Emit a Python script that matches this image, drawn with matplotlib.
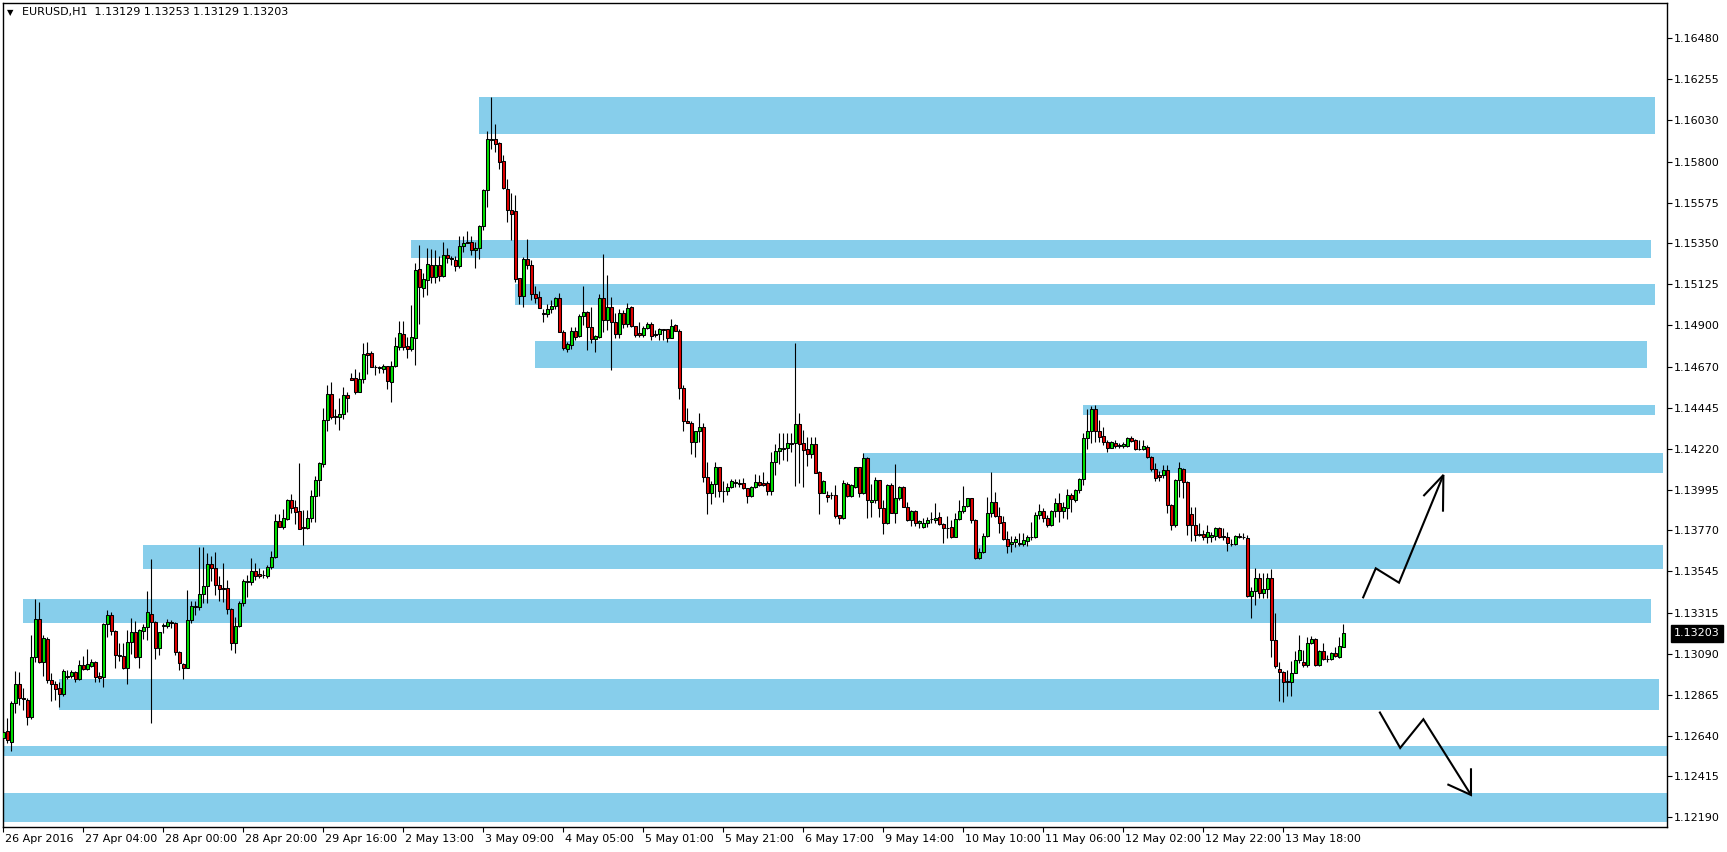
import matplotlib
matplotlib.use("Agg")
import matplotlib.pyplot as plt
from matplotlib.transforms import blended_transform_factory, ScaledTranslation

# ---------------- data ----------------
symbol_text = "EURUSD,H1  1.13129 1.13253 1.13129 1.13203"
last_price_label = "1.13203"

opens = [1.12625,1.12664,1.12607,1.12818,1.12923,1.12849,1.12836,1.12741,1.13071,1.13281,
1.13046,1.13172,1.12945,1.12923,1.12901,1.12871,1.12966,1.12970,1.12989,1.12953,
1.13027,1.13009,1.13025,1.13043,1.12967,1.12964,1.13253,1.13303,1.13214,1.13082,
1.13077,1.13014,1.13154,1.13211,1.13071,1.13214,1.13237,1.13310,1.13264,1.13120,
1.13242,1.13242,1.13266,1.13258,1.13099,1.13033,1.13014,1.13275,1.13347,1.13346,
1.13418,1.13462,1.13583,1.13561,1.13469,1.13451,1.13451,1.13336,1.13148,1.13242,
1.13369,1.13484,1.13486,1.13547,1.13530,1.13522,1.13521,1.13569,1.13625,1.13820,
1.13791,1.13831,1.13938,1.13897,1.13877,1.13791,1.13785,1.13837,1.13958,1.14046,
1.14137,1.14376,1.14521,1.14400,1.14396,1.14411,1.14514,1.14608,1.14608,1.14534,
1.14602,1.14745,1.14745,1.14672,1.14667,1.14661,1.14675,1.14589,1.14675,1.14782,
1.14852,1.14786,1.14771,1.14828,1.15208,1.15107,1.15147,1.15232,1.15167,1.15232,
1.15173,1.15285,1.15270,1.15258,1.15228,1.15334,1.15351,1.15357,1.15313,1.15324,
1.15446,1.15643,1.15922,1.15924,1.15904,1.15805,1.15650,1.15535,1.15527,1.15158,
1.15063,1.15263,1.15232,1.15071,1.15053,1.14967,1.14960,1.14988,1.15004,1.15048,
1.14864,1.14771,1.14789,1.14870,1.14842,1.14951,1.14971,1.14889,1.14823,1.14837,
1.15048,1.14929,1.15002,1.14916,1.14850,1.14966,1.14905,1.15002,1.14897,1.14856,
1.14845,1.14884,1.14907,1.14845,1.14850,1.14878,1.14878,1.14831,1.14900,1.14870,
1.14554,1.14374,1.14363,1.14259,1.14318,1.14338,1.14066,1.13977,1.14024,1.14118,
1.13987,1.13987,1.14011,1.14035,1.14023,1.14032,1.14002,1.13961,1.14007,1.14036,
1.14032,1.14032,1.13989,1.14145,1.14206,1.14226,1.14223,1.14250,1.14250,1.14354,
1.14250,1.14218,1.14192,1.14244,1.14090,1.13977,1.13965,1.13965,1.13965,1.13855,
1.13837,1.14028,1.13961,1.14011,1.14118,1.13974,1.14167,1.13928,1.13938,1.14046,
1.13892,1.13813,1.14019,1.13868,1.13947,1.14011,1.13901,1.13827,1.13877,1.13809,
1.13791,1.13809,1.13831,1.13827,1.13844,1.13804,1.13785,1.13787,1.13736,1.13831,
1.13877,1.13904,1.13947,1.13827,1.13620,1.13653,1.13738,1.13868,1.13925,1.13849,
1.13818,1.13723,1.13694,1.13705,1.13702,1.13697,1.13712,1.13736,1.13732,1.13853,
1.13875,1.13840,1.13800,1.13877,1.13921,1.13879,1.13892,1.13963,1.13938,1.13991,
1.14055,1.14277,1.14318,1.14437,1.14319,1.14288,1.14255,1.14226,1.14250,1.14239,
1.14235,1.14235,1.14277,1.14266,1.14220,1.14220,1.14231,1.14172,1.14107,1.14074,
1.14074,1.14103,1.13908,1.13802,1.14048,1.14108,1.14036,1.13859,1.13797,1.13749,
1.13750,1.13732,1.13732,1.13741,1.13782,1.13739,1.13732,1.13697,1.13694,1.13738,
1.13736,1.13727,1.13409,1.13438,1.13506,1.13424,1.13446,1.13506,1.13167,1.13005,
1.12989,1.12941,1.12937,1.12986,1.13054,1.13045,1.13029,1.13148,1.13170,1.13029,
1.13106,1.13060,1.13060,1.13093,1.13074,1.13129]

highs = [1.12676,1.12737,1.12831,1.12994,1.12989,1.12902,1.12847,1.13194,1.13392,1.13374,
1.13194,1.13183,1.12983,1.12942,1.12934,1.13007,1.13001,1.13001,1.12996,1.13056,
1.13078,1.13115,1.13061,1.13049,1.12990,1.13260,1.13332,1.13321,1.13222,1.13148,
1.13150,1.13222,1.13286,1.13270,1.13226,1.13253,1.13436,1.13613,1.13271,1.13211,
1.13258,1.13281,1.13275,1.13264,1.13106,1.13040,1.13442,1.13381,1.13383,1.13679,
1.13679,1.13646,1.13629,1.13651,1.13519,1.13591,1.13495,1.13343,1.13295,1.13381,
1.13503,1.13525,1.13618,1.13591,1.13561,1.13552,1.13578,1.13657,1.13860,1.13860,
1.13888,1.13945,1.13968,1.13938,1.14141,1.13882,1.13882,1.13993,1.14068,1.14145,
1.14443,1.14571,1.14586,1.14439,1.14498,1.14560,1.14530,1.14635,1.14659,1.14641,
1.14802,1.14808,1.14758,1.14679,1.14677,1.14686,1.14677,1.14703,1.14835,1.14923,
1.14923,1.14835,1.15011,1.15241,1.15343,1.15189,1.15327,1.15320,1.15314,1.15283,
1.15357,1.15324,1.15280,1.15280,1.15391,1.15391,1.15419,1.15391,1.15357,1.15450,
1.15650,1.15968,1.16157,1.16008,1.15911,1.15837,1.15705,1.15628,1.15617,1.15160,
1.15276,1.15375,1.15258,1.15118,1.15088,1.14991,1.15015,1.15039,1.15057,1.15076,
1.14874,1.14808,1.14890,1.14890,1.14963,1.15116,1.14980,1.14999,1.14846,1.15072,
1.15292,1.15177,1.15057,1.14966,1.14988,1.14984,1.15021,1.15006,1.14897,1.14916,
1.14896,1.14919,1.14919,1.14872,1.14885,1.14880,1.14880,1.14933,1.14908,1.14880,
1.14571,1.14443,1.14374,1.14318,1.14415,1.14363,1.14145,1.14044,1.14145,1.14121,
1.14042,1.14033,1.14055,1.14052,1.14055,1.14057,1.14004,1.14015,1.14082,1.14075,
1.14090,1.14042,1.14200,1.14244,1.14305,1.14305,1.14308,1.14305,1.14800,1.14415,
1.14323,1.14286,1.14286,1.14286,1.14099,1.14048,1.13987,1.13983,1.14020,1.13857,
1.14048,1.14039,1.14028,1.14121,1.14121,1.14195,1.14172,1.14024,1.14066,1.14050,
1.13938,1.14024,1.14029,1.14134,1.14015,1.14015,1.13925,1.13882,1.13882,1.13827,
1.13837,1.13846,1.13871,1.13919,1.13871,1.13813,1.13849,1.13827,1.13864,1.13938,
1.14016,1.13949,1.13950,1.13830,1.13671,1.13754,1.13953,1.14090,1.13980,1.13901,
1.13849,1.13768,1.13739,1.13739,1.13754,1.13758,1.13747,1.13816,1.13873,1.13914,
1.13895,1.13855,1.13882,1.13947,1.13974,1.13928,1.13998,1.13977,1.13998,1.14061,
1.14306,1.14439,1.14457,1.14462,1.14378,1.14340,1.14268,1.14262,1.14268,1.14253,
1.14257,1.14286,1.14292,1.14271,1.14266,1.14266,1.14240,1.14177,1.14140,1.14097,
1.14132,1.14129,1.13913,1.14053,1.14147,1.14114,1.14041,1.13901,1.13901,1.13809,
1.13772,1.13798,1.13763,1.13791,1.13791,1.13782,1.13763,1.13721,1.13745,1.13754,
1.13758,1.13745,1.13460,1.13561,1.13537,1.13534,1.13534,1.13556,1.13314,1.13046,
1.12998,1.13001,1.13050,1.13106,1.13194,1.13111,1.13185,1.13189,1.13176,1.13111,
1.13152,1.13084,1.13102,1.13130,1.13185,1.13253]

lows = [1.12557,1.12601,1.12557,1.12763,1.12810,1.12781,1.12700,1.12730,1.13046,1.13040,
1.12969,1.12930,1.12831,1.12836,1.12799,1.12860,1.12952,1.12956,1.12937,1.12946,
1.13001,1.13001,1.13016,1.12935,1.12935,1.12909,1.13181,1.13192,1.13014,1.13052,
1.13009,1.12926,1.13088,1.13069,1.13014,1.13172,1.13167,1.12709,1.13064,1.13086,
1.13206,1.13231,1.13231,1.13084,1.12999,1.12953,1.13010,1.13258,1.13304,1.13332,
1.13370,1.13369,1.13493,1.13414,1.13383,1.13377,1.13310,1.13111,1.13097,1.13240,
1.13354,1.13405,1.13469,1.13497,1.13508,1.13508,1.13508,1.13558,1.13620,1.13786,
1.13779,1.13827,1.13868,1.13807,1.13775,1.13691,1.13779,1.13818,1.13818,1.13961,
1.14118,1.14319,1.14385,1.14354,1.14325,1.14384,1.14421,1.14598,1.14523,1.14530,
1.14583,1.14630,1.14668,1.14628,1.14638,1.14638,1.14549,1.14479,1.14672,1.14764,
1.14762,1.14721,1.14758,1.14683,1.14905,1.15057,1.15068,1.15134,1.15134,1.15144,
1.15168,1.15244,1.15232,1.15200,1.15217,1.15305,1.15350,1.15287,1.15217,1.15266,
1.15423,1.15553,1.15872,1.15856,1.15762,1.15650,1.15470,1.15369,1.15140,1.15017,
1.15002,1.15210,1.15039,1.15024,1.14992,1.14918,1.14944,1.14966,1.14991,1.14860,
1.14764,1.14753,1.14769,1.14819,1.14837,1.14901,1.14764,1.14800,1.14753,1.14832,
1.14864,1.14874,1.14653,1.14831,1.14831,1.14885,1.14892,1.14892,1.14837,1.14835,
1.14837,1.14878,1.14820,1.14837,1.14819,1.14819,1.14809,1.14828,1.14868,1.14494,
1.14319,1.14362,1.14191,1.14176,1.14259,1.14038,1.13859,1.13914,1.13955,1.13955,
1.13928,1.13965,1.14005,1.14007,1.14011,1.13998,1.13923,1.13955,1.14005,1.14016,
1.14016,1.13965,1.13965,1.14075,1.14134,1.14158,1.14152,1.14204,1.14016,1.14029,
1.14011,1.14125,1.14166,1.14085,1.13859,1.13974,1.13928,1.13941,1.13837,1.13804,
1.13831,1.13955,1.13955,1.14006,1.13955,1.13970,1.13840,1.13842,1.13919,1.13846,
1.13749,1.13805,1.13864,1.13813,1.13938,1.13897,1.13822,1.13794,1.13794,1.13782,
1.13782,1.13791,1.13813,1.13813,1.13800,1.13699,1.13727,1.13727,1.13731,1.13827,
1.13864,1.13899,1.13813,1.13614,1.13611,1.13644,1.13736,1.13846,1.13842,1.13754,
1.13717,1.13647,1.13653,1.13680,1.13686,1.13686,1.13686,1.13717,1.13727,1.13831,
1.13818,1.13791,1.13796,1.13842,1.13818,1.13840,1.13834,1.13873,1.13928,1.13977,
1.14022,1.14217,1.14250,1.14259,1.14259,1.14239,1.14204,1.14223,1.14223,1.14226,
1.14224,1.14231,1.14259,1.14213,1.14213,1.14213,1.14166,1.14099,1.14042,1.14042,
1.14057,1.13868,1.13772,1.13791,1.13952,1.13947,1.13745,1.13712,1.13712,1.13739,
1.13717,1.13699,1.13708,1.13717,1.13727,1.13717,1.13658,1.13686,1.13690,1.13727,
1.13721,1.13405,1.13286,1.13359,1.13400,1.13400,1.13400,1.13075,1.13011,1.12832,
1.12823,1.12860,1.12860,1.12983,1.13038,1.13018,1.13018,1.13143,1.13023,1.13023,
1.13056,1.13046,1.13056,1.13074,1.13066,1.13129]

closes = [1.12662,1.12614,1.12818,1.12923,1.12846,1.12840,1.12741,1.13071,1.13281,1.13046,
1.13176,1.12945,1.12926,1.12898,1.12871,1.12994,1.12960,1.12989,1.12953,1.13027,
1.13009,1.13033,1.13043,1.12964,1.12959,1.13253,1.13303,1.13214,1.13082,1.13078,
1.13014,1.13154,1.13211,1.13071,1.13220,1.13237,1.13321,1.13266,1.13120,1.13209,
1.13247,1.13266,1.13258,1.13099,1.13038,1.13014,1.13275,1.13354,1.13352,1.13418,
1.13464,1.13583,1.13561,1.13468,1.13449,1.13449,1.13336,1.13148,1.13242,1.13370,
1.13490,1.13490,1.13547,1.13521,1.13521,1.13525,1.13569,1.13625,1.13820,1.13791,
1.13837,1.13938,1.13895,1.13873,1.13779,1.13785,1.13837,1.13958,1.14046,1.14141,
1.14376,1.14521,1.14396,1.14396,1.14411,1.14514,1.14498,1.14600,1.14534,1.14602,
1.14740,1.14738,1.14672,1.14668,1.14665,1.14675,1.14595,1.14675,1.14786,1.14856,
1.14782,1.14771,1.14835,1.15204,1.15112,1.15155,1.15237,1.15167,1.15232,1.15173,
1.15285,1.15268,1.15263,1.15228,1.15334,1.15353,1.15357,1.15313,1.15324,1.15446,
1.15645,1.15926,1.15928,1.15900,1.15801,1.15654,1.15536,1.15513,1.15156,1.15063,
1.15263,1.15232,1.15071,1.15049,1.14997,1.14964,1.14988,1.15004,1.15048,1.14864,
1.14773,1.14795,1.14870,1.14837,1.14951,1.14971,1.14889,1.14823,1.14841,1.15048,
1.14929,1.15002,1.14916,1.14850,1.14966,1.14905,1.14992,1.14897,1.14845,1.14845,
1.14884,1.14907,1.14842,1.14850,1.14878,1.14875,1.14831,1.14896,1.14870,1.14556,
1.14374,1.14363,1.14259,1.14318,1.14338,1.14066,1.13977,1.14024,1.14118,1.13987,
1.13985,1.14011,1.14042,1.14032,1.14033,1.14002,1.13961,1.14007,1.14036,1.14018,
1.14018,1.13989,1.14145,1.14206,1.14223,1.14220,1.14250,1.14248,1.14354,1.14246,
1.14215,1.14192,1.14244,1.14088,1.13977,1.14042,1.13952,1.13963,1.13851,1.13837,
1.14032,1.13961,1.14020,1.14118,1.13974,1.14167,1.13938,1.13938,1.14046,1.13892,
1.13813,1.14019,1.13868,1.13947,1.14011,1.13901,1.13827,1.13877,1.13809,1.13822,
1.13813,1.13827,1.13830,1.13840,1.13804,1.13782,1.13783,1.13736,1.13831,1.13877,
1.13904,1.13947,1.13827,1.13620,1.13653,1.13738,1.13868,1.13925,1.13849,1.13813,
1.13723,1.13686,1.13705,1.13721,1.13697,1.13716,1.13736,1.13734,1.13853,1.13875,
1.13837,1.13798,1.13877,1.13921,1.13879,1.13897,1.13963,1.13945,1.13991,1.14055,
1.14277,1.14318,1.14437,1.14319,1.14286,1.14255,1.14226,1.14255,1.14237,1.14237,
1.14246,1.14277,1.14264,1.14217,1.14218,1.14233,1.14172,1.14107,1.14061,1.14066,
1.14102,1.13908,1.13802,1.14048,1.14112,1.14036,1.13800,1.13797,1.13745,1.13745,
1.13732,1.13760,1.13745,1.13782,1.13736,1.13732,1.13699,1.13695,1.13739,1.13736,
1.13734,1.13409,1.13438,1.13506,1.13424,1.13446,1.13506,1.13167,1.13023,1.12989,
1.12934,1.12934,1.12986,1.13054,1.13110,1.13029,1.13148,1.13170,1.13029,1.13106,
1.13060,1.13059,1.13093,1.13078,1.13133,1.13203]

# time-axis labels: one label every 20 hourly bars
x_tick_labels = ["26 Apr 2016", "27 Apr 04:00", "28 Apr 00:00", "28 Apr 20:00",
                 "29 Apr 16:00", "2 May 13:00", "3 May 09:00", "4 May 05:00",
                 "5 May 01:00", "5 May 21:00", "6 May 17:00", "9 May 14:00",
                 "10 May 10:00", "11 May 06:00", "12 May 02:00", "12 May 22:00",
                 "13 May 18:00"]
x_tick_bars = [0, 20, 40, 60, 80, 100, 120, 140, 160, 180, 200, 220, 240, 260, 280, 300, 320]

y_tick_values = [1.16480, 1.16255, 1.16030, 1.15800, 1.15575, 1.15350, 1.15125,
                 1.14900, 1.14670, 1.14445, 1.14220, 1.13995, 1.13770, 1.13545,
                 1.13315, 1.13090, 1.12865, 1.12640, 1.12415, 1.12190]

# supply / demand zones: (start bar, end bar, low price, high price)
zone_start = [119, 102, 128, 133, 270, 215, 35, 5, 14, -5, -5]
zone_end = [413, 412, 413, 411, 413, 415, 415, 412, 414, 430, 430]
zone_low = [1.15955, 1.15272, 1.15013, 1.14664, 1.14407, 1.14088, 1.13559,
            1.13262, 1.12783, 1.12529, 1.12166]
zone_high = [1.16155, 1.15369, 1.15127, 1.14815, 1.14461, 1.14198, 1.13690,
             1.13392, 1.12952, 1.12583, 1.12324]

# hand-drawn scenario arrows (bar position, price)
up_path_x = [339.85, 343.1, 348.9, 360.0]
up_path_y = [1.13396, 1.13561, 1.13482, 1.14075]
up_head_x = [355.0, 360.0, 359.9]
up_head_y = [1.13959, 1.14075, 1.13873]
down_path_x = [344.0, 349.2, 355.0, 366.9]
down_path_y = [1.12772, 1.12572, 1.12730, 1.12313]
down_head_x = [361.0, 366.9, 366.9]
down_head_y = [1.12372, 1.12313, 1.12460]

# ---------------- figure ----------------
W, H = 1727, 852
fig = plt.figure(figsize=(W / 100, H / 100), dpi=100)
fig.patch.set_facecolor("white")
ax_l, ax_r, ax_t, ax_b = 2.5, 1667, 2.5, 827
ax = fig.add_axes([ax_l / W, 1 - ax_b / H, (ax_r - ax_l) / W, (ax_b - ax_t) / H])
ax.set_facecolor("white")

ax.set_xlim(-0.2, 415.9)
ax.set_ylim(1.121366, 1.16677)

# zones
for s, e, lo, hi in zip(zone_start, zone_end, zone_low, zone_high):
    ax.barh(lo, e - s, height=hi - lo, left=s, align="edge",
            color="#87ceeb", linewidth=0, zorder=1)

# candles
xs = list(range(len(closes)))
wick_lo = [min(l, o, c) for l, o, c in zip(lows, opens, closes)]
wick_hi = [max(h, o, c) for h, o, c in zip(highs, opens, closes)]
ax.vlines(xs, wick_lo, wick_hi, colors="black", linewidth=0.8, zorder=3)
bottoms = [min(o, c) for o, c in zip(opens, closes)]
heights = [abs(c - o) for o, c in zip(opens, closes)]
colors = ["#00e000" if c >= o else "#e00000" for o, c in zip(opens, closes)]
ax.bar(xs, heights, bottom=bottoms, width=0.72, color=colors,
       edgecolor="black", linewidth=0.75, zorder=4)

# arrows
for px, py in [(up_path_x, up_path_y), (up_head_x, up_head_y),
               (down_path_x, down_path_y), (down_head_x, down_head_y)]:
    ax.plot(px, py, color="black", linewidth=1.5, zorder=6,
            solid_joinstyle="miter", solid_capstyle="butt")

# spines
for sp in ax.spines.values():
    sp.set_color("black")
    sp.set_linewidth(1.0)

# y axis on the right
ax.yaxis.tick_right()
ax.set_yticks(y_tick_values)
ax.set_yticklabels([f"{v:.5f}" for v in y_tick_values])
ax.tick_params(axis="y", direction="out", length=3.5, width=0.8, pad=1.5,
               labelsize=8, colors="black", left=False)

# x axis
ax.set_xticks(x_tick_bars)
ax.set_xticklabels(x_tick_labels)
ax.tick_params(axis="x", direction="out", length=3.5, width=0.8, pad=1.2,
               labelsize=8, colors="black")
shift = ScaledTranslation(2 / 100, 0, fig.dpi_scale_trans)
for lbl in ax.get_xticklabels():
    lbl.set_horizontalalignment("left")
    lbl.set_transform(lbl.get_transform() + shift)

# current price tag
trans = blended_transform_factory(ax.transAxes, ax.transData)
tag_shift = ScaledTranslation(7 / 100, 0, fig.dpi_scale_trans)
ax.text(1.0, closes[-1], last_price_label, transform=trans + tag_shift,
        ha="left", va="center", fontsize=8, color="white", zorder=10,
        clip_on=False,
        bbox=dict(boxstyle="square,pad=0.3", fc="black", ec="black"))

# header text
fig.text(6.5 / W, 1 - 12.5 / H, "\u25bc", fontsize=6, va="center", ha="left",
         color="black")
fig.text(21.5 / W, 1 - 12.5 / H, symbol_text, fontsize=8, va="center",
         ha="left", color="black")

fig.savefig("out.png", dpi=100, facecolor="white")
